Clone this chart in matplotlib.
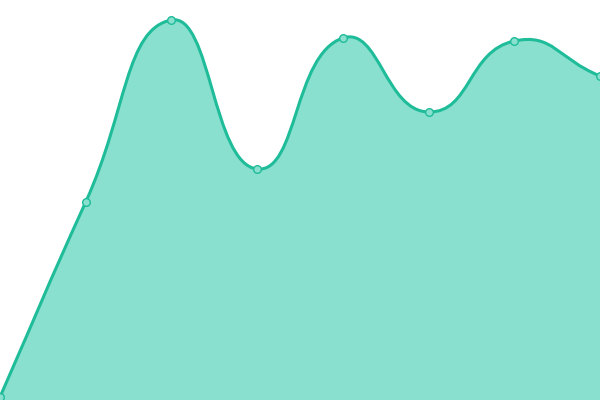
import numpy as np
import matplotlib
matplotlib.use("Agg")
import matplotlib.pyplot as plt
from matplotlib.path import Path
from matplotlib.patches import PathPatch

categories = list(range(8))
values = [3, 198, 380, 231, 362, 288, 359, 324]

LINE = "#1fbc9a"
FILL = "#8ae0cf"

fig = plt.figure(figsize=(6, 4), dpi=100)
ax = fig.add_axes([0, 0, 1, 1])
ax.set_xlim(0, len(categories) - 1)
ax.set_ylim(0, 400)
ax.axis("off")

# smooth curve (echarts-like cardinal bezier, smooth=0.5) in pixel space
pts = ax.transData.transform(np.column_stack([categories, values]))
smooth = 0.5
n = len(pts)
verts = [tuple(pts[0])]
codes = [Path.MOVETO]
cps = []
for i in range(n):
    p = pts[i]
    prev = pts[i - 1] if i > 0 else p
    nxt = pts[i + 1] if i < n - 1 else p
    v = nxt - prev
    l0 = np.hypot(*(p - prev))
    l1 = np.hypot(*(nxt - p))
    r = l1 / (l0 + l1) if (l0 + l1) > 0 else 0.5
    cp0 = p - v * smooth * (1 - r)
    cp1 = p + v * smooth * r
    cps.append((cp0, cp1))
for i in range(1, n):
    verts += [tuple(cps[i - 1][1]), tuple(cps[i][0]), tuple(pts[i])]
    codes += [Path.CURVE4] * 3
inv = ax.transData.inverted()
dverts = inv.transform(np.array(verts))
line_path = Path(dverts, codes)

fill_verts = list(dverts) + [(categories[-1], 0), (categories[0], 0), tuple(dverts[0])]
fill_codes = codes + [Path.LINETO, Path.LINETO, Path.CLOSEPOLY]
ax.add_patch(PathPatch(Path(fill_verts, fill_codes), facecolor=FILL, edgecolor="none", zorder=1))
ax.add_patch(PathPatch(line_path, facecolor="none", edgecolor=LINE, lw=2.2, zorder=2,
                       capstyle="round", joinstyle="round"))
ax.plot(categories, values, "o", ms=5.5, mfc=FILL, mec=LINE, mew=1, zorder=3, clip_on=False)

fig.savefig("out.png", dpi=100)
